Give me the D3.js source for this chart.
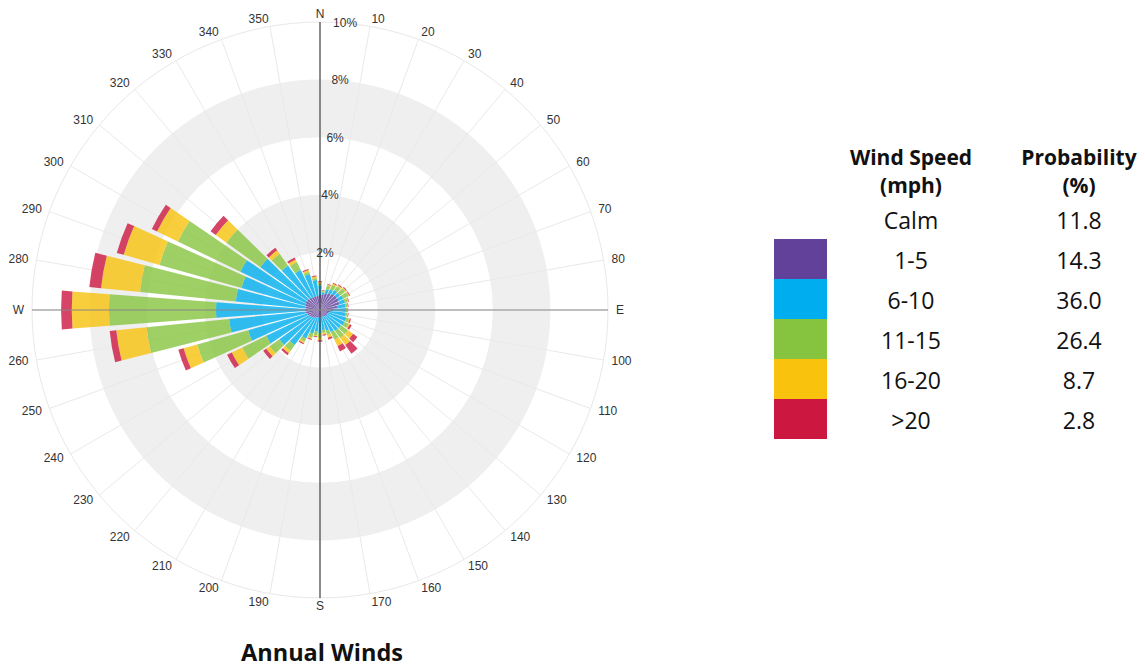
<!DOCTYPE html>
<html>
<head>
<meta charset="utf-8">
<script src="https://cdn.jsdelivr.net/npm/d3@7"></script>
<style>
  html, body { margin: 0; padding: 0; background: #fff; }
  svg { display: block; }
</style>
</head>
<body>
<svg id="chart" width="1145" height="669"></svg>
<script>
// ---------- DATA ----------
const directions = [0,10,20,30,40,50,60,70,80,90,100,110,120,130,140,150,160,170,180,190,200,210,220,230,240,250,260,270,280,290,300,310,320,330,340,350];
const dirLabels = ["N","10","20","30","40","50","60","70","80","E","100","110","120","130","140","150","160","170","S","190","200","210","220","230","240","250","260","W","280","290","300","310","320","330","340","350"];

// percent frequency per direction for each speed bin
const speed1to5   = [0.52,0.55,0.6,0.65,0.7,0.72,0.72,0.7,0.6,0.45,0.35,0.3,0.28,0.27,0.27,0.25,0.25,0.24,0.24,0.25,0.27,0.3,0.33,0.36,0.4,0.45,0.5,0.52,0.5,0.52,0.55,0.55,0.52,0.5,0.5,0.5];
const speed6to10  = [0.33,0.07,0.15,0.15,0.15,0.13,0.18,0.2,0.3,0.45,0.55,0.65,0.67,0.63,0.63,0.6,0.5,0.46,0.56,0.5,0.58,0.8,1.17,1.38,1.67,2.14,2.67,3.09,2.44,2.31,2.52,2.0,1.38,1.04,0.8,0.55];
const speed11to15 = [0.08,0.04,0.13,0.17,0.17,0.23,0.2,0.1,0.06,0.04,0.05,0.1,0.15,0.3,0.3,0.3,0.15,0.1,0.17,0.13,0.15,0.12,0.25,0.41,0.93,1.84,2.88,3.72,3.34,2.96,2.41,1.45,0.5,0.31,0.08,0.07];
const speed16to20 = [0.04,0.02,0.04,0.05,0.05,0.04,0.03,0.03,0.02,0.02,0.03,0.03,0.05,0.22,0.3,0.25,0.1,0.06,0.08,0.04,0.05,0.06,0.1,0.15,0.4,0.49,1.06,1.29,1.36,1.29,0.8,0.46,0.15,0.1,0.06,0.05];
const speedOver20 = [0.03,0.02,0.03,0.03,0.03,0.03,0.03,0.02,0.02,0.02,0.02,0.04,0.07,0.18,0.37,0.2,0.07,0.04,0.05,0.03,0.03,0.04,0.08,0.13,0.18,0.19,0.23,0.37,0.41,0.25,0.2,0.22,0.11,0.07,0.04,0.03];

const speedKeys   = ["s1","s2","s3","s4","s5"];
const speedColors = ["#62419a","#00aeef","#86c440","#f8c20d","#cc1740"];

const radialTicks = [2,4,6,8,10];
const tickLabels  = ["2%","4%","6%","8%","10%"];

const legendSpeeds = ["Calm","1-5","6-10","11-15","16-20",">20"];
const legendProbs  = ["11.8","14.3","36.0","26.4","8.7","2.8"];
const legendHeaders = [["Wind Speed","(mph)"],["Probability","(%)"]];
const title = "Annual Winds";

// ---------- SETUP ----------
const svg = d3.select("#chart");
const cx = 320, cy = 310;
const r = d3.scaleLinear().domain([0, 10]).range([0, 288]);
const rad = d => d * Math.PI / 180;

const g = svg.append("g").attr("transform", `translate(${cx},${cy})`);

// background bands
const bands = [[2,4],[6,8]];
g.selectAll("path.band").data(bands).join("path")
  .attr("class","band")
  .attr("d", d => d3.arc()({innerRadius: r(d[0]), outerRadius: r(d[1]), startAngle: 0, endAngle: 2*Math.PI}))
  .attr("fill", "#efefef");

// spokes
g.selectAll("line.spoke").data(directions).join("line")
  .attr("class","spoke")
  .attr("x1", 0).attr("y1", 0)
  .attr("x2", d => r(10) * Math.sin(rad(d)))
  .attr("y2", d => -r(10) * Math.cos(rad(d)))
  .attr("stroke", "#e9e9e9").attr("stroke-width", 1);

// outer circle
g.append("circle").attr("r", r(10)).attr("fill","none").attr("stroke","#e8e8e8").attr("stroke-width",1);

// stacked bars
const rows = directions.map((d, i) => ({
  dir: d, s1: speed1to5[i], s2: speed6to10[i], s3: speed11to15[i], s4: speed16to20[i], s5: speedOver20[i]
}));
const stacked = d3.stack().keys(speedKeys)(rows);
const half = 4.3;
const arc = d3.arc();
stacked.forEach((layer, li) => {
  g.append("g").selectAll("path").data(layer).join("path")
    .attr("d", d => arc({
      innerRadius: r(d[0]), outerRadius: r(d[1]),
      startAngle: rad(d.data.dir - half), endAngle: rad(d.data.dir + half)
    }))
    .attr("fill", speedColors[li])
    .attr("fill-opacity", 0.8);
});

// axes (N-S and W-E)
g.append("line").attr("x1",0).attr("y1",-r(10)).attr("x2",0).attr("y2",r(10))
  .attr("stroke","#222").attr("stroke-width",1);
g.append("line").attr("x1",-r(10)).attr("y1",0).attr("x2",r(10)).attr("y2",0)
  .attr("stroke","#888").attr("stroke-width",1);

// radial tick labels
g.selectAll("text.rtick").data(radialTicks).join("text")
  .attr("class","rtick")
  .attr("x", d => r(d) * Math.sin(rad(5)))
  .attr("y", d => -r(d) * Math.cos(rad(5)))
  .attr("text-anchor","middle").attr("dominant-baseline","central")
  .attr("font-family","'Liberation Sans', Arial, sans-serif").attr("font-size",12).attr("fill","#333")
  .text((d,i) => tickLabels[i]);

// direction labels
const labR = 296;
g.selectAll("text.dir").data(directions).join("text")
  .attr("class","dir")
  .attr("x", d => labR * Math.sin(rad(d)))
  .attr("y", d => -labR * Math.cos(rad(d)))
  .attr("text-anchor", d => (d === 0 || d === 180) ? "middle" : (d < 180 ? "start" : "end"))
  .attr("dominant-baseline","central")
  .attr("font-family","'Liberation Sans', Arial, sans-serif").attr("font-size",12).attr("fill","#333")
  .text((d,i) => dirLabels[i]);

// title
svg.append("text").attr("x", 322).attr("y", 661)
  .attr("text-anchor","middle")
  .attr("font-family","'Open Sans', sans-serif").attr("font-weight","bold").attr("font-size",23.5).attr("fill","#111")
  .text(title);

// ---------- LEGEND TABLE ----------
const col1 = 911, col2 = 1079;
const font = "'Open Sans', sans-serif";
[col1, col2].forEach((x, ci) => {
  legendHeaders[ci].forEach((t, li) => {
    svg.append("text").attr("x", x).attr("y", 165 + li * 28)
      .attr("text-anchor","middle").attr("font-family",font).attr("font-weight","bold")
      .attr("font-size",21).attr("fill","#111").text(t);
  });
});
const rowY = i => 229 + i * 40;
svg.append("g").selectAll("text").data(legendSpeeds).join("text")
  .attr("x", col1).attr("y", (d,i) => rowY(i))
  .attr("text-anchor","middle").attr("font-family",font).attr("font-size",23).attr("fill","#111")
  .text(d => d);
svg.append("g").selectAll("text").data(legendProbs).join("text")
  .attr("x", col2).attr("y", (d,i) => rowY(i))
  .attr("text-anchor","middle").attr("font-family",font).attr("font-size",23).attr("fill","#111")
  .text(d => d);
svg.append("g").selectAll("rect").data(speedColors).join("rect")
  .attr("x", 774).attr("y", (d,i) => 239 + i * 40)
  .attr("width", 53).attr("height", 40)
  .attr("fill", d => d);
</script>
</body>
</html>
